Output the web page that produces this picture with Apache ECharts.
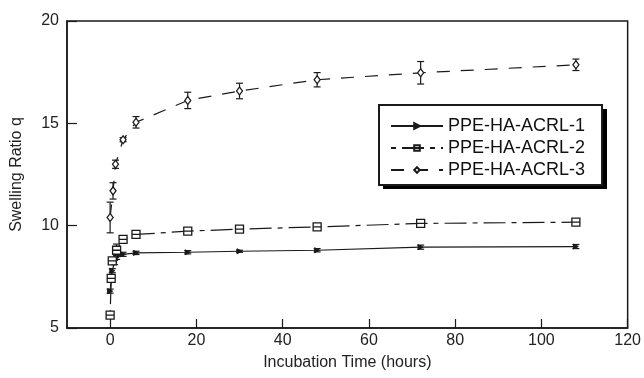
<!DOCTYPE html>
<html><head><meta charset="utf-8">
<script src="https://cdn.jsdelivr.net/npm/echarts@6/dist/echarts.min.js"></script>
<style>html,body{margin:0;padding:0;background:#fff}#c{width:644px;height:378px}</style>
</head><body><div id="c"></div>
<script>
const seriesNames = ['PPE-HA-ACRL-1', 'PPE-HA-ACRL-2', 'PPE-HA-ACRL-3'];
const time1 = [0, 0.5, 1, 1.5, 3, 6, 18, 30, 48, 72, 108];
const q1 = [6.8, 7.8, 8.2, 8.45, 8.6, 8.67, 8.7, 8.75, 8.8, 8.95, 8.98];
const err1 = [0.1, 0.1, 0.1, 0.1, 0.1, 0.08, 0.08, 0.05, 0.08, 0.1, 0.1];
const time2 = [0, 0.25, 0.5, 1.5, 3, 6, 18, 30, 48, 72, 108];
const q2 = [5.63, 7.42, 8.28, 8.8, 9.33, 9.57, 9.73, 9.83, 9.94, 10.11, 10.17];
const err2 = [0.1, 0.1, 0.1, 0.3, 0.08, 0.08, 0.08, 0.08, 0.08, 0.1, 0.1];
const time3 = [0, 0.67, 1.25, 3, 6, 18, 30, 48, 72, 108];
const q3 = [10.4, 11.7, 13.0, 14.2, 15.05, 16.12, 16.58, 17.13, 17.47, 17.86];
const err3 = [0.75, 0.4, 0.2, 0.1, 0.28, 0.4, 0.38, 0.35, 0.55, 0.28];
const xTicks = [0, 20, 40, 60, 80, 100, 120];
const yTicks = [5, 10, 15, 20];

const INK = '#1a1a1a';
const FONT = 'Liberation Sans, Arial, sans-serif';

function errSeries(t, q, e, id) {
  return {
    type: 'custom', name: id, silent: true, z: 3,
    data: t.map((x, i) => [x, q[i] - e[i], q[i] + e[i]]),
    encode: { x: 0, y: [1, 2] },
    renderItem: (params, api) => {
      const lo = api.coord([api.value(0), api.value(1)]);
      const hi = api.coord([api.value(0), api.value(2)]);
      const w = 3.5;
      const st = { stroke: INK, lineWidth: 1.2 };
      return { type: 'group', children: [
        { type: 'line', shape: { x1: lo[0], y1: lo[1], x2: hi[0], y2: hi[1] }, style: st },
        { type: 'line', shape: { x1: lo[0] - w, y1: lo[1], x2: lo[0] + w, y2: lo[1] }, style: st },
        { type: 'line', shape: { x1: hi[0] - w, y1: hi[1], x2: hi[0] + w, y2: hi[1] }, style: st }
      ]};
    }
  };
}

const chart = echarts.init(document.getElementById('c'), null, { renderer: 'canvas' });
chart.setOption({
  backgroundColor: '#fff',
  animation: false,
  textStyle: { fontFamily: FONT },
  grid: { left: 67, right: 15, top: 21, bottom: 50, show: true, borderColor: INK, borderWidth: 1.5 },
  graphic: [{
    type: 'rect', left: 383, top: 109, z: 1,
    shape: { width: 224, height: 80 }, style: { fill: '#000' }
  }],
  xAxis: {
    type: 'value', min: -10, max: 120,
    name: 'Incubation Time (hours)', nameLocation: 'middle', nameGap: 27,
    nameTextStyle: { fontSize: 16, color: '#222', fontFamily: FONT },
    axisLine: { show: true, onZero: false, lineStyle: { color: INK, width: 1.5 } },
    axisTick: { show: true, inside: true, length: 9, customValues: xTicks, lineStyle: { color: INK, width: 1.2 } },
    axisLabel: { customValues: xTicks, fontSize: 16, color: '#222', margin: 5, fontFamily: FONT },
    splitLine: { show: false }
  },
  yAxis: {
    type: 'value', min: 5, max: 20, interval: 5,
    name: 'Swelling Ratio q', nameLocation: 'middle', nameGap: 42,
    nameTextStyle: { fontSize: 16, color: '#222', fontFamily: FONT },
    axisLine: { show: true, onZero: false, lineStyle: { color: INK, width: 1.5 } },
    axisTick: { show: true, inside: true, length: 10, customValues: yTicks, lineStyle: { color: INK, width: 1.2 } },
    axisLabel: { customValues: yTicks, fontSize: 16, color: '#222', margin: 8, fontFamily: FONT },
    splitLine: { show: false }
  },
  legend: {
    data: seriesNames, orient: 'vertical', left: 379, top: 105, z: 5,
    itemWidth: 52, itemHeight: 7, itemGap: 4,
    padding: [12, 17, 6, 11],
    backgroundColor: '#fff', borderColor: INK, borderWidth: 2,
    textStyle: { fontSize: 18, color: '#111', fontFamily: FONT },
    selectedMode: false
  },
  series: [
    errSeries(time1, q1, err1, 'e1'),
    errSeries(time2, q2, err2, 'e2'),
    errSeries(time3, q3, err3, 'e3'),
    {
      type: 'line', name: seriesNames[0], data: time1.map((x, i) => [x, q1[i]]), z: 4,
      symbol: 'triangle', symbolSize: 5, symbolRotate: -90,
      itemStyle: { color: INK, borderColor: INK, borderWidth: 1 },
      lineStyle: { color: INK, width: 1.2, type: 'solid' }
    },
    {
      type: 'line', name: seriesNames[1], data: time2.map((x, i) => [x, q2[i]]), z: 4,
      symbol: 'path://M0,0H10V10H0ZM0,5H10', symbolSize: 8, symbolKeepAspect: true,
      itemStyle: { color: '#fff', borderColor: INK, borderWidth: 1.3 },
      lineStyle: { color: INK, width: 1.2, type: [5, 6, 22, 6] }
    },
    {
      type: 'line', name: seriesNames[2], data: time3.map((x, i) => [x, q3[i]]), z: 4,
      symbol: 'diamond', symbolSize: [6, 8],
      itemStyle: { color: '#fff', borderColor: INK, borderWidth: 1.3 },
      lineStyle: { color: INK, width: 1.2, type: [13, 11] }
    }
  ]
});
</script></body></html>
